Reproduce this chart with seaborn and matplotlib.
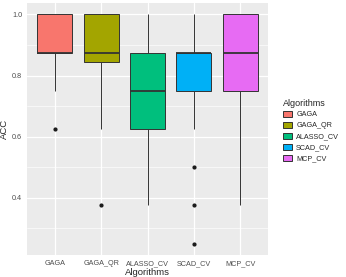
import numpy as np
import pandas as pd
import seaborn as sns
from matplotlib import pyplot as plt
from matplotlib.patches import Patch

# accuracy values per algorithm (multiples of 1/8)
gaga = [0.625, 0.75, 0.875, 0.875, 0.875, 0.875, 1.0, 1.0, 1.0, 1.0]
gaga_qr = [0.375, 0.625, 0.75, 0.875, 0.875, 0.875, 0.875, 0.875, 1.0, 1.0, 1.0, 1.0]
alasso_cv = [0.375, 0.5, 0.625, 0.625, 0.75, 0.75, 0.875, 0.875, 1.0]
scad_cv = [0.25, 0.375, 0.5, 0.625, 0.75, 0.75, 0.75,
           0.875, 0.875, 0.875, 0.875, 0.875, 0.875, 0.875, 0.875, 0.875, 1.0]
mcp_cv = [0.375, 0.625, 0.75, 0.875, 0.875, 0.875, 1.0, 1.0, 1.0]

algorithms = ["GAGA", "GAGA_QR", "ALASSO_CV", "SCAD_CV", "MCP_CV"]
colors = ["#F8766D", "#A3A500", "#00BF7D", "#00B0F6", "#E76BF3"]

rows = []
for name, vals in zip(algorithms, [gaga, gaga_qr, alasso_cv, scad_cv, mcp_cv]):
    for v in vals:
        rows.append((name, v))
df = pd.DataFrame(rows, columns=["Algorithms", "ACC"])

sns.set_theme(style="darkgrid")
plt.rcParams['font.family'] = ['Liberation Sans', 'DejaVu Sans']

fig = plt.figure(figsize=(3.46, 2.77), dpi=100)
ax = fig.add_axes([27 / 346, 22 / 277, 241 / 346, 252 / 277])
ax.set_facecolor("#EBEBEB")

edge = "#333333"
sns.boxplot(data=df, x="Algorithms", y="ACC", hue="Algorithms", order=algorithms,
            hue_order=algorithms, palette=colors, legend=False, width=0.75,
            saturation=1, linewidth=0.7, linecolor=edge, showcaps=False,
            medianprops=dict(color=edge, linewidth=1.3),
            flierprops=dict(marker="o", markerfacecolor="#1a1a1a",
                            markeredgecolor="#1a1a1a", markersize=2.0),
            ax=ax)

ax.set_xlim(-0.6, 4.6)
ax.set_ylim(0.2125, 1.0375)
ax.set_yticks([0.4, 0.6, 0.8, 1.0])
ax.set_yticklabels(["0.4", "0.6", "0.8", "1.0"])
ax.set_yticks([0.3, 0.5, 0.7, 0.9], minor=True)
ax.grid(which="major", color="white", linewidth=0.9)
ax.grid(which="minor", axis="y", color="white", linewidth=0.45)
ax.set_axisbelow(True)
for s in ax.spines.values():
    s.set_visible(False)

ax.tick_params(axis="both", which="major", length=2, width=0.6, color="#333333",
               labelsize=5.2, labelcolor="#4D4D4D", pad=1.5)
ax.tick_params(axis="both", which="minor", length=0)
ax.set_xlabel("Algorithms", fontsize=6.8, labelpad=1)
ax.set_ylabel("ACC", fontsize=6.8, labelpad=2)

handles = [Patch(facecolor=c, edgecolor=edge, linewidth=0.7) for c in colors]
leg = fig.legend(handles, algorithms, title="Algorithms", loc="upper left",
                 bbox_to_anchor=(276 / 346, 1 - 92 / 277), frameon=False,
                 fontsize=5.2, title_fontsize=6.5, handlelength=1.3,
                 handleheight=1.0, handletextpad=0.6, labelspacing=0.45)
leg._legend_box.align = "left"

fig.savefig("out.png", dpi=100)
